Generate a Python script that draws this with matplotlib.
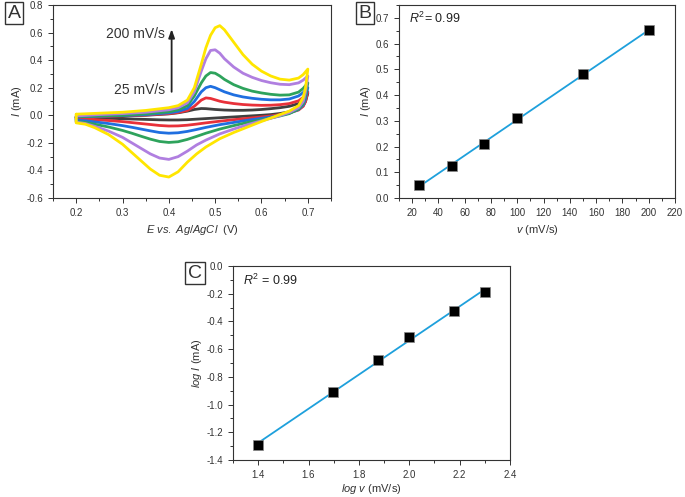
import numpy as np
import matplotlib
matplotlib.use("Agg")
import matplotlib.pyplot as plt
from matplotlib.ticker import MultipleLocator

plt.rcParams['font.family'] = ['Liberation Sans', 'DejaVu Sans']
plt.rcParams['mathtext.fontset'] = 'custom'
plt.rcParams['mathtext.rm'] = 'Liberation Sans'
plt.rcParams['mathtext.it'] = 'Liberation Sans:italic'

# ---------------- Panel A: cyclic voltammograms ----------------
scan_rates = ["25", "50", "75", "100", "150", "200"]
cv_colors = ["#404040", "#e8313a", "#1f6fe0", "#2ea35c", "#b07fe0", "#ffe600"]

# forward (anodic) branches: E, I
fwd_E = [0.20, 0.25, 0.30, 0.35, 0.40, 0.42, 0.44, 0.455, 0.47, 0.48, 0.49, 0.50, 0.51, 0.52, 0.54, 0.56, 0.58, 0.60, 0.62, 0.64, 0.66, 0.68, 0.69, 0.70]
fwd_I = {
    "25":  [-0.015, -0.01, -0.005, 0.0, 0.01, 0.018, 0.03, 0.042, 0.049, 0.048, 0.045, 0.042, 0.04, 0.038, 0.036, 0.036, 0.038, 0.042, 0.048, 0.055, 0.065, 0.085, 0.11, 0.16],
    "50":  [-0.015, -0.01, -0.004, 0.002, 0.012, 0.02, 0.035, 0.065, 0.11, 0.126, 0.122, 0.112, 0.102, 0.095, 0.085, 0.078, 0.074, 0.072, 0.073, 0.077, 0.085, 0.105, 0.13, 0.17],
    "75":  [-0.012, -0.007, -0.002, 0.005, 0.018, 0.028, 0.05, 0.1, 0.17, 0.2, 0.21, 0.2, 0.185, 0.17, 0.148, 0.133, 0.123, 0.116, 0.112, 0.112, 0.118, 0.14, 0.165, 0.2],
    "100": [-0.01, -0.005, 0.0, 0.01, 0.025, 0.04, 0.07, 0.14, 0.235, 0.285, 0.31, 0.305, 0.285, 0.26, 0.222, 0.195, 0.175, 0.162, 0.152, 0.146, 0.148, 0.168, 0.195, 0.235],
    "150": [-0.005, 0.005, 0.012, 0.022, 0.04, 0.055, 0.09, 0.17, 0.32, 0.41, 0.47, 0.475, 0.45, 0.41, 0.35, 0.305, 0.275, 0.252, 0.236, 0.225, 0.222, 0.235, 0.255, 0.285],
    "200": [0.008, 0.015, 0.022, 0.035, 0.055, 0.07, 0.11, 0.2, 0.37, 0.49, 0.58, 0.635, 0.65, 0.62, 0.53, 0.44, 0.37, 0.32, 0.285, 0.262, 0.255, 0.27, 0.295, 0.335],
}
# reverse (cathodic) branches: E, I
rev_E = [0.70, 0.695, 0.69, 0.68, 0.66, 0.64, 0.62, 0.60, 0.57, 0.54, 0.51, 0.48, 0.46, 0.44, 0.42, 0.40, 0.38, 0.36, 0.34, 0.32, 0.30, 0.27, 0.24, 0.22, 0.20]
rev_I = {
    "25":  [0.16, 0.1, 0.07, 0.045, 0.025, 0.013, 0.005, 0.0, -0.006, -0.012, -0.018, -0.024, -0.028, -0.032, -0.034, -0.034, -0.033, -0.031, -0.029, -0.027, -0.025, -0.022, -0.02, -0.018, -0.017],
    "50":  [0.17, 0.1, 0.065, 0.038, 0.018, 0.005, -0.005, -0.012, -0.022, -0.032, -0.043, -0.055, -0.064, -0.072, -0.077, -0.078, -0.074, -0.067, -0.06, -0.053, -0.046, -0.038, -0.032, -0.027, -0.024],
    "75":  [0.2, 0.12, 0.075, 0.042, 0.015, 0.0, -0.012, -0.022, -0.036, -0.052, -0.068, -0.088, -0.103, -0.117, -0.127, -0.13, -0.125, -0.113, -0.1, -0.087, -0.075, -0.06, -0.048, -0.04, -0.035],
    "100": [0.235, 0.14, 0.085, 0.045, 0.012, -0.005, -0.02, -0.033, -0.052, -0.075, -0.1, -0.13, -0.153, -0.175, -0.192, -0.197, -0.19, -0.173, -0.152, -0.13, -0.11, -0.085, -0.065, -0.052, -0.045],
    "150": [0.285, 0.17, 0.1, 0.055, 0.02, -0.002, -0.022, -0.04, -0.068, -0.1, -0.135, -0.18, -0.215, -0.26, -0.3, -0.32, -0.31, -0.28, -0.24, -0.2, -0.16, -0.115, -0.08, -0.06, -0.05],
    "200": [0.335, 0.2, 0.13, 0.07, 0.03, 0.005, -0.02, -0.045, -0.085, -0.125, -0.17, -0.23, -0.28, -0.34, -0.41, -0.448, -0.435, -0.39, -0.33, -0.27, -0.21, -0.14, -0.09, -0.065, -0.055],
}

# ---------------- Panel B: peak current vs scan rate ----------------
v_rate = [25, 50, 75, 100, 150, 200]
I_peak = [0.05, 0.125, 0.21, 0.31, 0.48, 0.652]

# ---------------- Panel C: log-log ----------------
log_v = [1.398, 1.699, 1.875, 2.0, 2.176, 2.301]
log_I = [-1.292, -0.91, -0.68, -0.51, -0.322, -0.19]

fit_color = "#1ea0dc"

fig = plt.figure(figsize=(6.85, 4.97), dpi=100)
axA = fig.add_axes([0.0774, 0.6016, 0.4058, 0.3884])
axB = fig.add_axes([0.5825, 0.6016, 0.4029, 0.3884])
axC = fig.add_axes([0.3401, 0.0744, 0.4044, 0.3904])


def style(ax):
    for s in ax.spines.values():
        s.set_linewidth(0.8)
        s.set_color("#333333")
    ax.tick_params(which='both', direction='out', top=False, right=False,
                   labelsize=7, colors="#333333", width=0.7)
    ax.tick_params(which='major', length=3.5)
    ax.tick_params(which='minor', length=2)


# Panel A
for rate, c in zip(scan_rates, cv_colors):
    E = fwd_E + rev_E
    I = fwd_I[rate] + rev_I[rate]
    E = E + [fwd_E[0]]
    I = I + [fwd_I[rate][0]]
    axA.plot(E, I, color=c, lw=2.0, solid_joinstyle='round', solid_capstyle='round')
axA.set_xlim(0.15, 0.75)
axA.set_ylim(-0.6, 0.8)
axA.xaxis.set_minor_locator(MultipleLocator(0.05))
axA.yaxis.set_minor_locator(MultipleLocator(0.1))
axA.set_xticks([0.2, 0.3, 0.4, 0.5, 0.6, 0.7])
axA.set_xticklabels(["0.2", "0.3", "0.4", "0.5", "0.6", "0.7"])
axA.set_yticks([-0.6, -0.4, -0.2, 0.0, 0.2, 0.4, 0.6, 0.8])
axA.set_yticklabels(["-0.6", "-0.4", "-0.2", "0.0", "0.2", "0.4", "0.6", "0.8"])
style(axA)
axA.set_xlabel(r"$E\ vs.\ Ag/AgCl$  (V)", fontsize=8, color="#333333")
axA.set_ylabel(r"$I$ (mA)", fontsize=8, color="#333333", labelpad=2)
axA.annotate("", xy=(0.406, 0.645), xytext=(0.406, 0.15),
             arrowprops=dict(arrowstyle="-|>,head_length=0.5,head_width=0.18", color="#222222", lw=1.3))
axA.text(0.392, 0.59, "200 mV/s", ha='right', va='center', fontsize=10, color="#333333")
axA.text(0.392, 0.185, "25 mV/s", ha='right', va='center', fontsize=10, color="#333333")

# Panel B
pB = np.polyfit(v_rate, I_peak, 1)
xb = np.array([v_rate[0], v_rate[-1]])
axB.plot(xb, np.polyval(pB, xb), color=fit_color, lw=1.3, zorder=2)
axB.scatter(v_rate, I_peak, marker='s', s=55, color='black', edgecolors='#888888', linewidths=0.5, zorder=3)
axB.set_xlim(10, 220)
axB.set_ylim(0, 0.75)
axB.xaxis.set_minor_locator(MultipleLocator(10))
axB.yaxis.set_minor_locator(MultipleLocator(0.05))
axB.set_xticks(list(range(20, 221, 20)))
axB.set_yticks([0.0, 0.1, 0.2, 0.3, 0.4, 0.5, 0.6, 0.7])
axB.set_yticklabels(["0.0", "0.1", "0.2", "0.3", "0.4", "0.5", "0.6", "0.7"])
style(axB)
axB.set_xlabel(r"$v$ (mV/s)", fontsize=8, color="#333333")
axB.set_ylabel(r"$I$ (mA)", fontsize=8, color="#333333", labelpad=2)
axB.text(0.035, 0.933, r"$R^2$= 0.99", transform=axB.transAxes, fontsize=9, color="#222222", va='center')

# Panel C
pC = np.polyfit(log_v, log_I, 1)
xc = np.array([log_v[0], log_v[-1]])
axC.plot(xc, np.polyval(pC, xc), color=fit_color, lw=1.3, zorder=2)
axC.scatter(log_v, log_I, marker='s', s=55, color='black', edgecolors='#888888', linewidths=0.5, zorder=3)
axC.set_xlim(1.3, 2.4)
axC.set_ylim(-1.4, 0.0)
axC.xaxis.set_minor_locator(MultipleLocator(0.1))
axC.yaxis.set_minor_locator(MultipleLocator(0.1))
axC.set_xticks([1.4, 1.6, 1.8, 2.0, 2.2, 2.4])
axC.set_xticklabels(["1.4", "1.6", "1.8", "2.0", "2.2", "2.4"])
axC.set_yticks([-1.4, -1.2, -1.0, -0.8, -0.6, -0.4, -0.2, 0.0])
axC.set_yticklabels(["-1.4", "-1.2", "-1.0", "-0.8", "-0.6", "-0.4", "-0.2", "0.0"])
style(axC)
axC.set_xlabel(r"$log\ v$ (mV/s)", fontsize=8, color="#333333", labelpad=1.5)
axC.set_ylabel(r"$log\ I$ (mA)", fontsize=8, color="#333333", labelpad=2)
axC.text(0.035, 0.928, r"$R^2$ = 0.99", transform=axC.transAxes, fontsize=9, color="#222222", va='center')

# Panel letters
box = dict(boxstyle="square,pad=0.15", facecolor="white", edgecolor="#333333", linewidth=1.0)
fig.text(14 / 685, 1 - 13 / 497, "A", fontsize=14, ha='center', va='center', bbox=box, color="#333333")
fig.text(365 / 685, 1 - 13 / 497, "B", fontsize=14, ha='center', va='center', bbox=box, color="#333333")
fig.text(195 / 685, 1 - 273 / 497, "C", fontsize=14, ha='center', va='center', bbox=box, color="#333333")

fig.savefig("out.png", dpi=100)
